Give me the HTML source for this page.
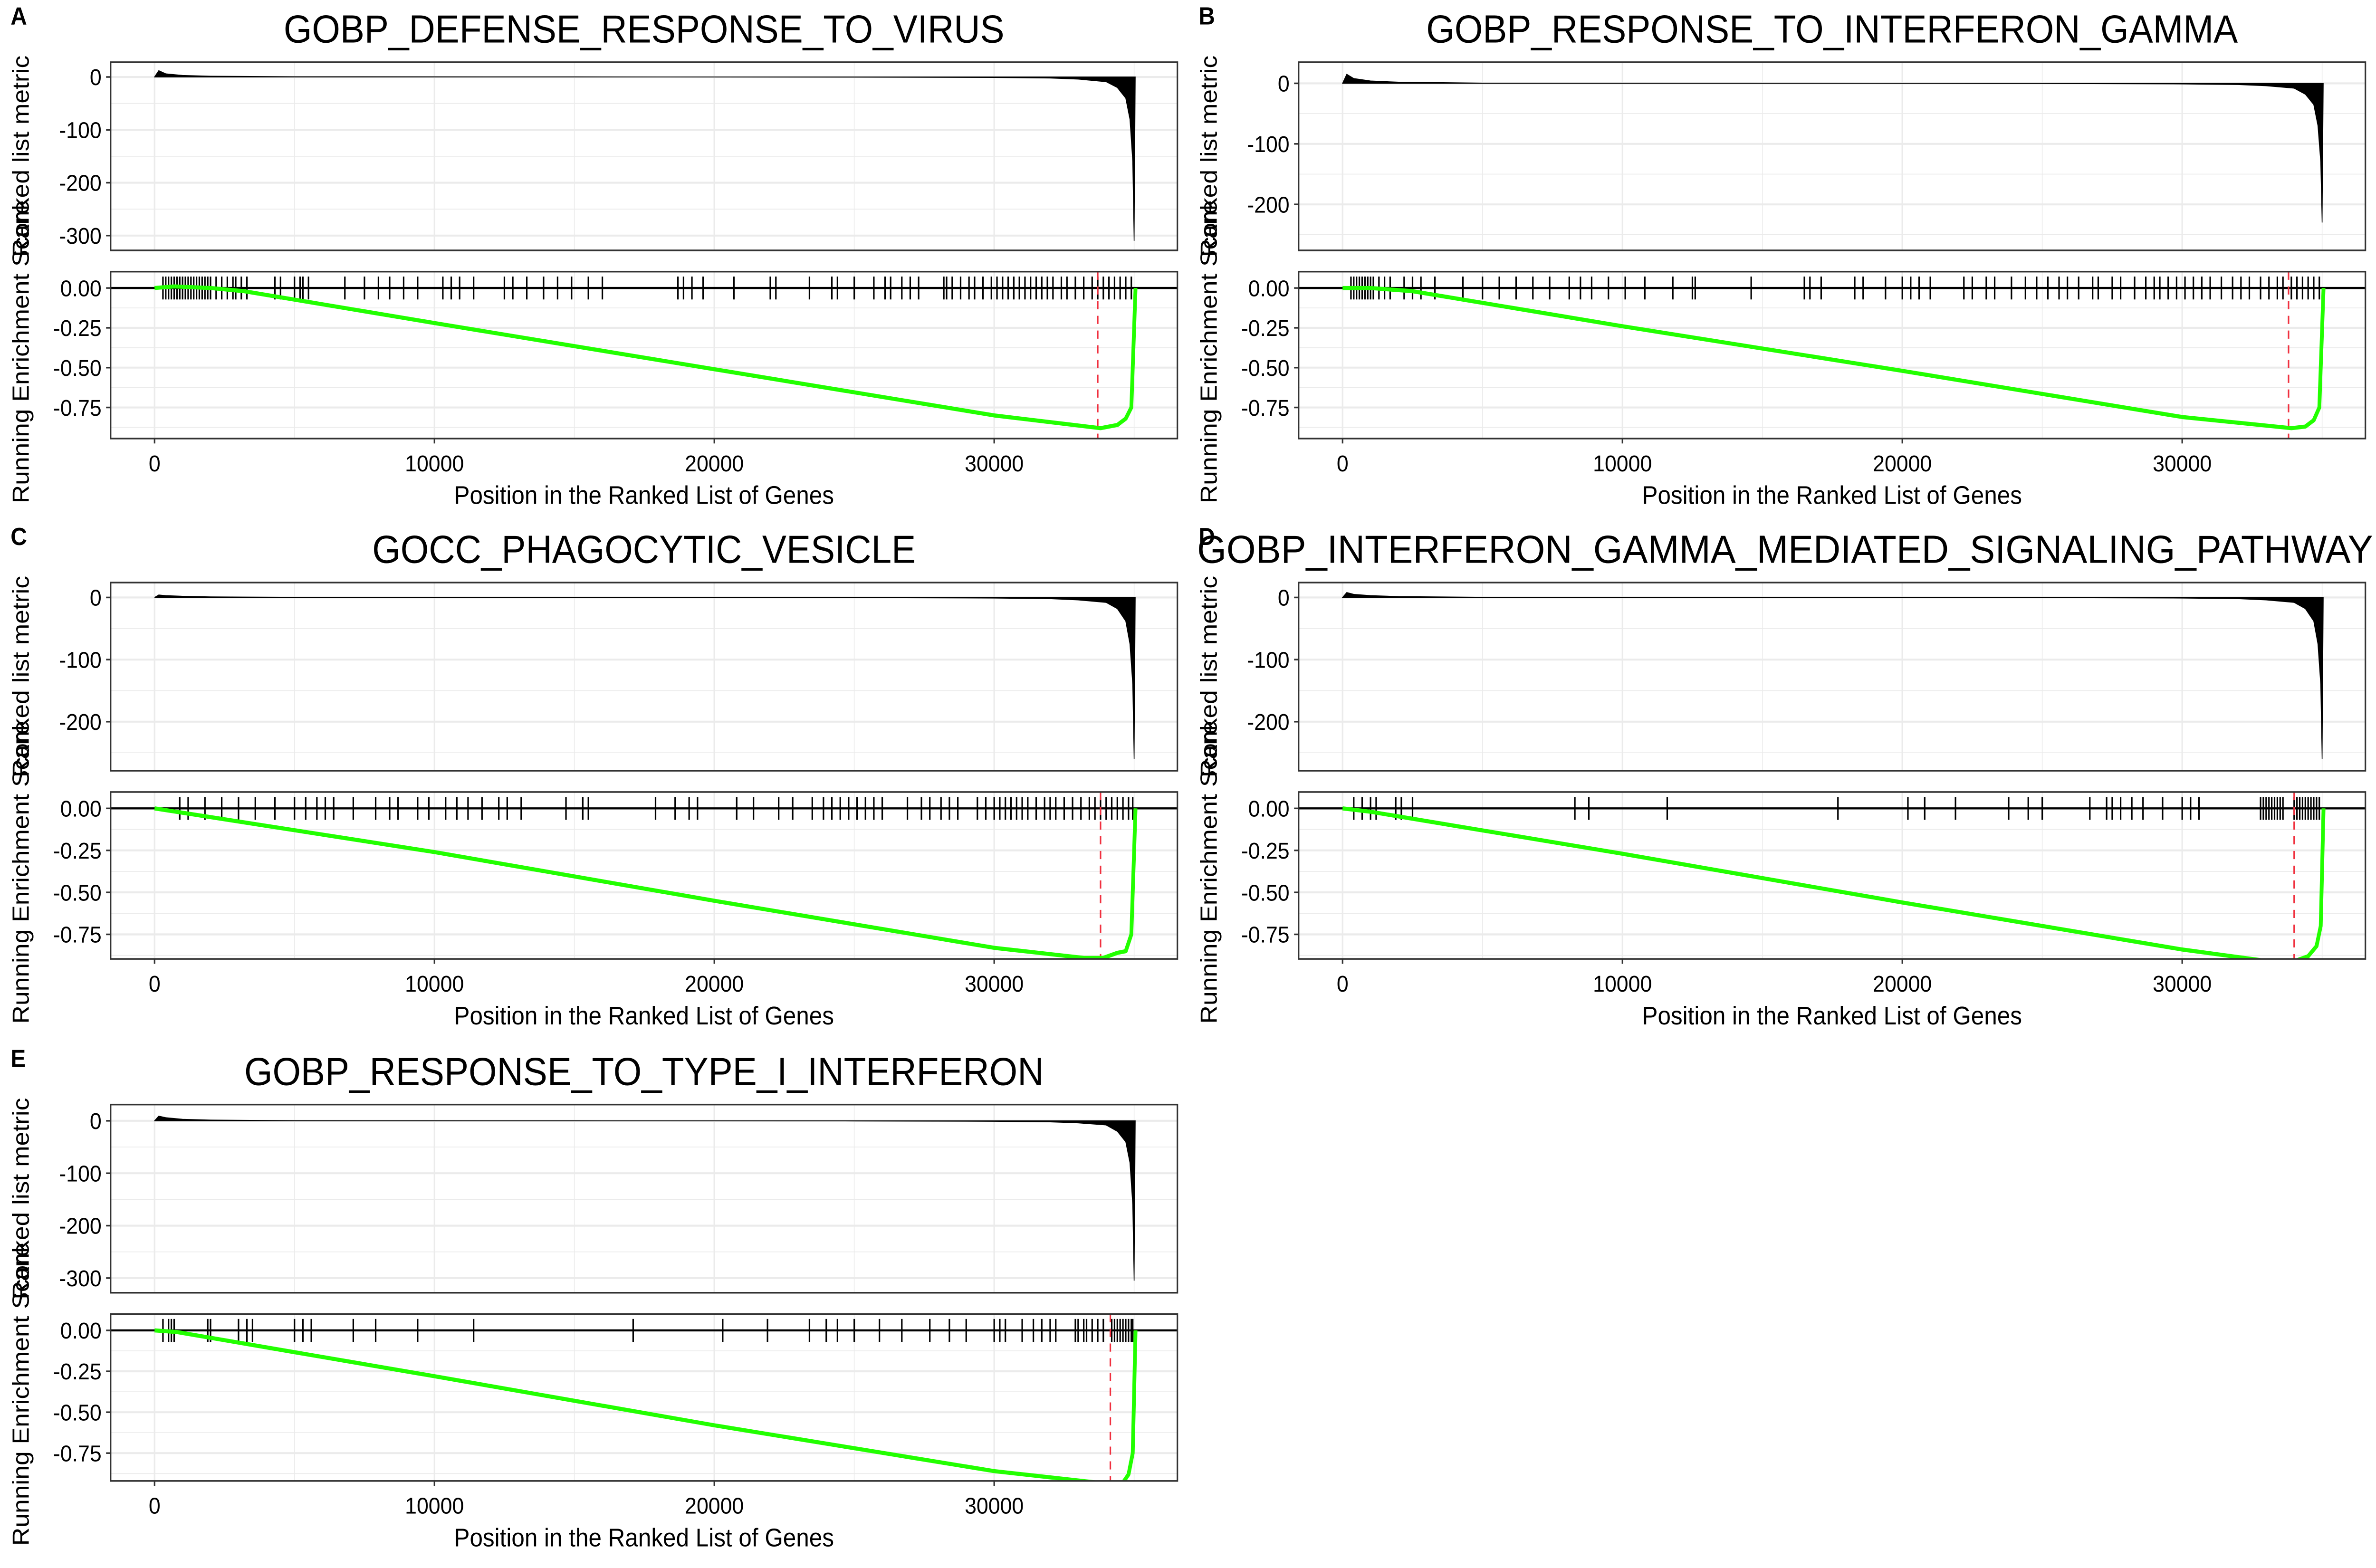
<!DOCTYPE html>
<html><head><meta charset="utf-8"><style>
html,body{margin:0;padding:0;background:#fff;overflow:hidden;width:100%;height:100%;}
#wrap{width:100%;height:100%;overflow:hidden;position:relative;}
svg{display:block;width:100%;height:100%;font-family:"Liberation Sans",Arial,sans-serif;}
</style></head><body>
<div id="wrap">
<svg id="fig" viewBox="0 0 1568 958.2" preserveAspectRatio="none" xmlns="http://www.w3.org/2000/svg"></svg>
</div>
<script>
// ---- data ----
const titles = ["GOBP_DEFENSE_RESPONSE_TO_VIRUS","GOBP_RESPONSE_TO_INTERFERON_GAMMA","GOCC_PHAGOCYTIC_VESICLE","GOBP_INTERFERON_GAMMA_MEDIATED_SIGNALING_PATHWAY","GOBP_RESPONSE_TO_TYPE_I_INTERFERON"];
const panelLetters = ["A","B","C","D","E"];
const xTicks = [0,10000,20000,30000];
const metricX = [0,150,400,1000,2000,5000,15000,25000,30000,32000,33000,34000,34400,34700,34850,34950,35000,35040];
const metricA = [0,12,6,3,1.5,0.5,0.2,-0.3,-1,-2,-4,-9,-20,-40,-80,-160,-310,0];
const metricB = [0,15,8,4,2,0.5,0.2,-0.3,-1,-2,-4,-8,-18,-35,-70,-130,-230,0];
const metricC = [0,4,3,2,1,0.3,0.1,-0.3,-1,-2,-4,-8,-18,-38,-75,-140,-260,0];
const metricD = [0,8,5,3,1.5,0.3,0.1,-0.3,-1,-2,-4,-8,-18,-38,-75,-140,-260,0];
const metricE = [0,9,6,3,1.5,0.3,0.1,-0.3,-1,-2,-4,-8,-20,-40,-80,-160,-305,0];
const metricTicksA = [0,-100,-200,-300];
const metricTicksB = [0,-100,-200];
const esTicks = [0,-0.25,-0.5,-0.75];
const esTickLabels = ["0.00","-0.25","-0.50","-0.75"];
const esXA = [0,700,2000,3200,10000,20000,30000,33800,34400,34700,34900,35050];
const esYA = [0,0.01,0,-0.02,-0.22,-0.51,-0.80,-0.88,-0.86,-0.82,-0.75,0];
const esXB = [0,1000,2500,10000,20000,30000,33900,34400,34700,34900,35050];
const esYB = [0,0,-0.02,-0.24,-0.52,-0.81,-0.88,-0.87,-0.83,-0.75,0];
const esXC = [0,10000,20000,30000,33200,33900,34400,34700,34900,35050];
const esYC = [0,-0.26,-0.55,-0.83,-0.89,-0.89,-0.86,-0.85,-0.75,0];
const esXD = [0,1000,10000,20000,30000,33100,34000,34500,34800,34950,35050];
const esYD = [0,-0.02,-0.27,-0.56,-0.84,-0.91,-0.91,-0.88,-0.82,-0.7,0];
const esXE = [0,800,10000,20000,30000,34200,34600,34800,34950,35050];
const esYE = [0,-0.01,-0.28,-0.58,-0.86,-0.94,-0.93,-0.88,-0.75,0];
const hitsA = [300,400,500,600,700,800,900,1000,1100,1200,1300,1400,1500,1600,1700,1800,1900,2000,2200,2400,2600,2800,2900,3100,3300,4300,4500,5000,5200,5300,5500,6800,7500,8000,8400,8900,9400,10300,10600,10900,11400,12500,12800,13300,13900,14400,14900,15500,16000,18700,18900,19200,19600,20700,22000,22200,23400,24200,24400,25000,25700,26100,26300,26700,27000,27300,28200,28300,28500,28800,29100,29300,29600,29900,30100,30300,30500,30700,30900,31100,31300,31500,31700,31900,32100,32400,32600,32900,33200,33500,33700,33900,34100,34300,34500,34700,34900];
const hitsB = [300,400,500,600,700,800,900,1000,1100,1300,1500,1700,2200,2500,2800,3300,4300,5000,5600,6200,6800,7400,8100,8500,8900,9500,10100,10800,11800,12500,12600,14600,16500,16700,17100,18300,18600,19400,20000,20300,20600,21000,22200,22500,23000,23300,23900,24400,24800,25200,25600,25900,26300,26800,27000,27500,27800,28300,28700,29000,29200,29500,29800,30100,30400,30700,31000,31400,31800,32100,32400,32800,33100,33400,33600,33900,34100,34300,34500,34700,34900];
const hitsC = [900,1200,1800,2400,3000,3600,4300,5000,5400,5800,6100,6400,7100,7900,8400,8700,9400,9800,10400,10800,11200,11700,12300,12600,13100,14700,15300,15500,17900,18600,19100,19400,20800,21400,22300,22800,23500,23900,24200,24500,24800,25100,25400,25700,26000,26900,27400,27700,28100,28400,28700,29400,29700,30000,30200,30400,30600,30800,31000,31200,31500,31800,32000,32200,32500,32800,33100,33400,33600,33800,34000,34200,34400,34600,34800,34950];
const hitsD = [400,700,1000,1200,1900,2100,2500,8300,8800,11600,17700,20200,20800,21900,23800,24500,25000,26700,27300,27500,27800,28200,28600,29300,30000,30300,30600,32800,32900,33000,33100,33200,33300,33400,33500,33600,34000,34100,34200,34300,34400,34500,34600,34700,34800,34900];
const hitsE = [300,500,600,700,1900,2000,3000,3300,3500,5000,5300,5600,7100,7900,9400,11400,17100,20300,21900,23400,24000,24400,25000,25900,26700,27700,28400,29000,30000,30200,30400,31000,31400,31700,32000,32200,32900,33000,33200,33300,33500,33700,33900,34200,34300,34400,34500,34600,34700,34800,34900,34950];
const peaks = [33700,33800,33800,34000,34150];

// ---- layout ----
const NS="http://www.w3.org/2000/svg";
const svg=document.getElementById('fig');
function mk(tag,attrs,parent){const e=document.createElementNS(NS,tag);for(const k in attrs)e.setAttribute(k,attrs[k]);(parent||svg).appendChild(e);return e;}
const cols=[{bx:73,bw:704,x0:102},{bx:857,bw:704,x0:886}];
const rowsY=[0,318,637];
const pxPer=18.47/1000;
const panels=[
 {col:0,row:0,mx:metricA,mt:metricTicksA,mTop:28,mBot:-328,esx:esXA,esy:esYA,esScale:73,hits:hitsA},
 {col:1,row:0,mx:metricB,mt:metricTicksB,mTop:35,mBot:-276,esx:esXB,esy:esYB,esScale:73,hits:hitsB},
 {col:0,row:1,mx:metricC,mt:metricTicksB,mTop:24,mBot:-279,esx:esXC,esy:esYC,esScale:77,hits:hitsC},
 {col:1,row:1,mx:metricD,mt:metricTicksB,mTop:24,mBot:-279,esx:esXD,esy:esYD,esScale:77,hits:hitsD},
 {col:0,row:2,mx:metricE,mt:metricTicksA,mTop:31,mBot:-328,esx:esXE,esy:esYE,esScale:75,hits:hitsE}
];
panels.forEach((p,i)=>{
 const c=cols[p.col], oy=rowsY[p.row];
 const g=mk('g',{});
 
 
 const X=v=>c.x0+v*pxPer;
 const tTop=38+oy, tBot=153+oy;
 const YM=v=>tTop+(p.mTop-v)/(p.mTop-p.mBot)*(tBot-tTop);
 const bTop=166+oy, bBot=268+oy, z=176+oy;
 const YE=v=>z-v/0.75*p.esScale;
 const L=mk('text',{x:c.bx-66,y:oy+15,'font-size':15,'font-weight':'bold'},g);L.textContent=panelLetters[i];
 
 let T;
 if(titles[i].length>40){
  T=mk('text',{x:790,y:oy+26,'font-size':24,'text-anchor':'start',textLength:776,lengthAdjust:'spacingAndGlyphs'},g);
 } else {
  T=mk('text',{x:c.bx+352,y:oy+26,'font-size':24,'text-anchor':'middle'},g);
 }
 T.textContent=titles[i];
 
 const clipId='c'+i;
 const cp=mk('clipPath',{id:clipId},g);mk('rect',{x:c.bx,y:tTop,width:c.bw,height:tBot-tTop},cp);
 const cp2=mk('clipPath',{id:clipId+'b'},g);mk('rect',{x:c.bx,y:bTop,width:c.bw,height:bBot-bTop},cp2);
 for(let v=-5000;v<=40000;v+=5000){const x=X(v);if(x<c.bx||x>c.bx+c.bw)continue;const maj=v%10000===0;
  mk('line',{x1:x,x2:x,y1:tTop,y2:tBot,stroke:'#ebebeb','stroke-width':maj?1:0.5},g);
  mk('line',{x1:x,x2:x,y1:bTop,y2:bBot,stroke:'#ebebeb','stroke-width':maj?1:0.5},g);}
 for(let v=50;v>=-350;v-=50){const y=YM(v);if(y<tTop||y>tBot)continue;mk('line',{x1:c.bx,x2:c.bx+c.bw,y1:y,y2:y,stroke:'#ebebeb','stroke-width':v%100===0?1.2:0.5},g);}
 for(let v=0.125;v>=-1;v-=0.125){const y=YE(v);if(y<bTop||y>bBot)continue;mk('line',{x1:c.bx,x2:c.bx+c.bw,y1:y,y2:y,stroke:'#ebebeb','stroke-width':Math.abs(v*4-Math.round(v*4))<1e-6?1.2:0.5},g);}
 let d='M'+X(metricX[0])+','+YM(0);
 metricX.forEach((xv,k)=>{d+=' L'+X(xv)+','+YM(p.mx[k]);});
 d+=' L'+X(metricX[metricX.length-1])+','+YM(0)+' Z';
 const area=mk('path',{d:d,fill:'#000',stroke:'#000','stroke-width':0.5,'clip-path':'url(#'+clipId+')'},g);
 
 mk('rect',{x:c.bx,y:tTop,width:c.bw,height:tBot-tTop,fill:'none',stroke:'#333','stroke-width':1},g);
 p.mt.forEach(v=>{const y=YM(v);mk('line',{x1:c.bx-3,x2:c.bx,y1:y,y2:y,stroke:'#333'},g);
  const t=mk('text',{x:c.bx-6,y:y+5,'font-size':14,'text-anchor':'end'},g);t.textContent=v;
  });
 mk('line',{x1:c.bx,x2:c.bx+c.bw,y1:z,y2:z,stroke:'#000','stroke-width':1.3},g);
 p.hits.forEach(h=>{const hl=mk('line',{x1:X(h),x2:X(h),y1:z-7,y2:z+7,stroke:'#000','stroke-width':1},g);
  });
 const pk=mk('line',{x1:X(peaks[i]),x2:X(peaks[i]),y1:bTop,y2:bBot,stroke:'#f0303f','stroke-width':1,'stroke-dasharray':'5,4'},g);
 
 const pts=p.esx.map((xv,k)=>X(xv)+','+YE(p.esy[k])).join(' ');
 const es=mk('polyline',{points:pts,fill:'none',stroke:'#22ff00','stroke-width':2.5,'stroke-linejoin':'round','clip-path':'url(#'+clipId+'b)'},g);
 
 mk('rect',{x:c.bx,y:bTop,width:c.bw,height:bBot-bTop,fill:'none',stroke:'#333','stroke-width':1},g);
 esTicks.forEach((v,k)=>{const y=YE(v);mk('line',{x1:c.bx-3,x2:c.bx,y1:y,y2:y,stroke:'#333'},g);
  const t=mk('text',{x:c.bx-6,y:y+5,'font-size':14,'text-anchor':'end'},g);t.textContent=esTickLabels[k];
  });
 xTicks.forEach(v=>{const x=X(v);mk('line',{x1:x,x2:x,y1:bBot,y2:bBot+3,stroke:'#333'},g);
  const t=mk('text',{x:x,y:bBot+20,'font-size':14,'text-anchor':'middle'},g);t.textContent=v;
  });
 const xt=mk('text',{x:c.bx+352,y:bBot+40,'font-size':15.5,'text-anchor':'middle'},g);xt.textContent='Position in the Ranked List of Genes';
 
 const yx=c.bx-54;
 const y1=mk('text',{x:0,y:0,'font-size':15.5,'text-anchor':'middle',transform:'translate('+yx+','+((tTop+tBot)/2)+') rotate(-90)'},g);y1.textContent='Ranked list metric';
 
 const y2=mk('text',{x:0,y:0,'font-size':15.5,'text-anchor':'middle',transform:'translate('+yx+','+((bTop+bBot)/2-2)+') rotate(-90)'},g);y2.textContent='Running Enrichment Score';
 
});
</script>
</body></html>
